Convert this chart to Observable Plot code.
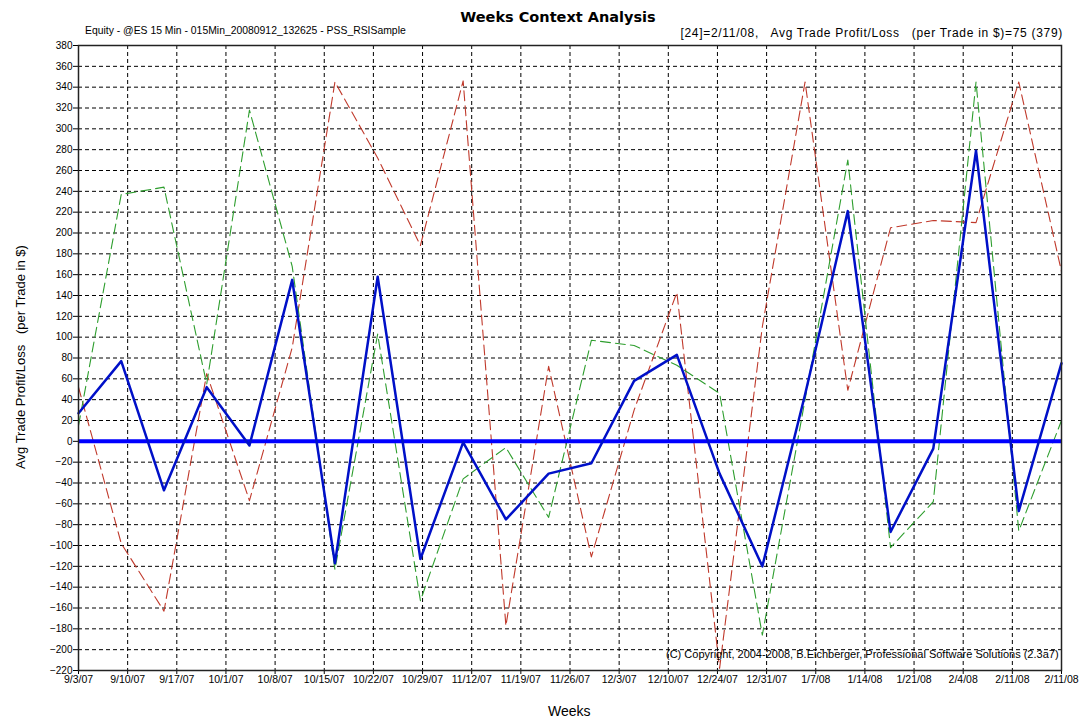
<!DOCTYPE html>
<html>
<head>
<meta charset="utf-8">
<script src="https://cdn.jsdelivr.net/npm/d3@7"></script>
<script src="https://cdn.jsdelivr.net/npm/@observablehq/plot@0.6"></script>
<style>
  html, body { margin: 0; padding: 0; background: #fff; }
  #wrap { position: relative; width: 1080px; height: 719px; font-family: "Liberation Sans", Arial, sans-serif; }
  .t { position: absolute; white-space: pre; color: #000; line-height: 1; }
  svg text { font-family: "Liberation Sans", Arial, sans-serif; }
</style>
</head>
<body>
<div id="wrap">
  <div class="t" style="left:18px;width:1080px;text-align:center;top:10px;font-size:14.5px;font-weight:bold;font-family:'DejaVu Sans',sans-serif;">Weeks Context Analysis</div>
  <div class="t" style="left:85px;top:26px;font-size:10.4px;">Equity - @ES 15 Min - 015Min_20080912_132625 - PSS_RSISample</div>
  <div class="t" style="right:17px;top:27px;font-size:12px;letter-spacing:0.7px;">[24]=2/11/08,   Avg Trade Profit/Loss   (per Trade in $)=75 (379)</div>
  <div class="t" style="left:20px;top:357px;font-size:13px;transform:translate(-50%,-50%) rotate(-90deg);">Avg Trade Profit/Loss   (per Trade in $)</div>
  <div class="t" style="left:548px;top:704px;font-size:14px;">Weeks</div>
  <div id="chart"></div>
  <div class="t" style="left:666px;top:649px;font-size:11px;">(C) Copyright, 2004-2008, B.Eichberger, Professional Software Solutions (2.3a7)</div>
</div>
<script>
const xLabels = ["9/3/07","9/10/07","9/17/07","10/1/07","10/8/07","10/15/07","10/22/07","10/29/07","11/12/07","11/19/07","11/26/07","12/3/07","12/10/07","12/24/07","12/31/07","1/7/08","1/14/08","1/21/08","2/4/08","2/11/08","2/11/08"];
const blue  = [27, 77, -47, 52, -4, 155, -117, 158, -113, -1, -75, -31, -21, 58, 83, -31, -120, 45, 221, -87, -7, 279, -67, 75];
const green = [15, 237, 244, 55, 318, 168, -123, 103, -153, -36, -6, -73, 97, 92, 73, 46, -186, 40, 270, -102, -58, 345, -86, 20];
const red   = [52, -98, -163, 65, -57, 90, 345, 272, 188, 346, -177, 72, -111, 30, 143, -218, 110, 345, 49, 205, 212, 210, 345, 163];
const yTicks = d3.range(-220, 381, 20);

const nPts = blue.length;
const xMax = nPts - 1;
const xTickPos = xLabels.map((_, i) => i * xMax / (xLabels.length - 1));
const toRows = arr => arr.map((v, i) => ({i, v}));

const chart = Plot.plot({
  width: 1080,
  height: 719,
  marginLeft: 78,
  marginRight: 19,
  marginTop: 45,
  marginBottom: 49,
  style: {fontSize: "10px", color: "#000", background: "transparent"},
  x: {type: "linear", domain: [0, xMax]},
  y: {type: "linear", domain: [-220, 380]},
  marks: [
    Plot.gridY(yTicks.slice(1, -1), {stroke: "#000", strokeOpacity: 1, strokeDasharray: "4,3"}),
    Plot.gridX(xTickPos.slice(1, -1), {stroke: "#000", strokeOpacity: 1, strokeDasharray: "4,3"}),
    Plot.axisY(yTicks, {tickSize: 5, tickPadding: 1, label: null, fontSize: 10}),
    Plot.axisX(xTickPos, {tickSize: 4, tickPadding: 1, label: null, fontSize: 10.5,
      tickFormat: d => xLabels[Math.round(d * (xLabels.length - 1) / xMax)]}),
    Plot.line(toRows(red), {x: "i", y: "v", stroke: "#c0392b", strokeWidth: 1.1, strokeDasharray: "10,5"}),
    Plot.line(toRows(green), {x: "i", y: "v", stroke: "#2e9e2e", strokeWidth: 1.1, strokeDasharray: "10,5"}),
    Plot.ruleY([0], {stroke: "#0000ff", strokeWidth: 4}),
    Plot.line(toRows(blue), {x: "i", y: "v", stroke: "#0010c8", strokeWidth: 2.5}),
    Plot.frame({stroke: "#222", strokeWidth: 1.5})
  ]
});
chart.style.position = "absolute";
chart.style.left = "0";
chart.style.top = "0";
document.getElementById("chart").appendChild(chart);
</script>
</body>
</html>
